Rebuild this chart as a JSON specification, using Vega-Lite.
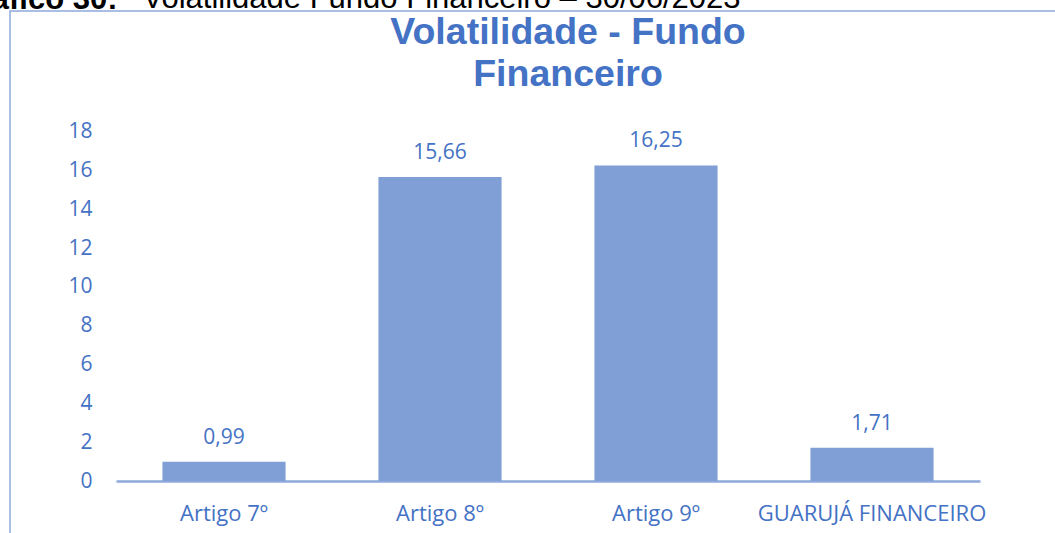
{
  "$schema": "https://vega.github.io/schema/vega-lite/v6.json",
  "autosize": {"type": "none"},
  "padding": {"left": 10, "top": 11, "right": 0, "bottom": 0},
  "width": 1116,
  "height": 540,
  "background": "white",
  "title": {
    "text": ["Volatilidade - Fundo", "Financeiro"],
    "anchor": "middle",
    "frame": "group",
    "font": "Liberation Sans",
    "fontSize": 37.5,
    "fontWeight": "bold",
    "color": "#4472C4",
    "lineHeight": 42,
    "baseline": "top",
    "offset": -111
  },
  "data": {
    "values": [
      {"categoria": "Artigo 7º", "volatilidade": 0.99},
      {"categoria": "Artigo 8º", "volatilidade": 15.66},
      {"categoria": "Artigo 9º", "volatilidade": 16.25},
      {"categoria": "GUARUJÁ FINANCEIRO", "volatilidade": 1.71}
    ]
  },
  "encoding": {
    "x": {
      "field": "categoria",
      "type": "nominal",
      "sort": null,
      "scale": {"range": [106, 970], "paddingInner": 0.43, "paddingOuter": 0.215},
      "axis": {
        "orient": "bottom",
        "offset": -70,
        "title": "Gráfico 30:",
        "titleFont": "Liberation Sans",
        "titleFontSize": 31,
        "titleFontWeight": "bold",
        "titleColor": "#000000",
        "titleAlign": "right",
        "titleBaseline": "alphabetic",
        "titleAngle": 0,
        "titleX": 107,
        "titleY": -473,
        "labelAngle": 0,
        "labelFont": "Open Sans",
        "labelFontSize": 22,
        "labelColor": "#4472C4",
        "labelBaseline": "alphabetic",
        "labelPadding": 39,
        "labelLimit": 400,
        "ticks": false,
        "tickSize": 0,
        "domainColor": "#8EA9DB",
        "domainWidth": 2.5,
        "grid": false
      }
    },
    "y": {
      "field": "volatilidade",
      "type": "quantitative",
      "scale": {"domain": [0, 18], "range": [470, 120.5], "nice": false, "zero": true},
      "axis": {
        "orient": "left",
        "offset": -90,
        "values": [0, 2, 4, 6, 8, 10, 12, 14, 16, 18],
        "format": "d",
        "title": "Volatilidade Fundo Financeiro – 30/06/2023",
        "titleFont": "Liberation Sans",
        "titleFontSize": 31,
        "titleFontWeight": "normal",
        "titleColor": "#000000",
        "titleAlign": "left",
        "titleBaseline": "alphabetic",
        "titleAngle": 0,
        "titleX": 42,
        "titleY": -4,
        "labelFont": "Open Sans",
        "labelFontSize": 21,
        "labelColor": "#4472C4",
        "labelPadding": 8,
        "ticks": false,
        "tickSize": 0,
        "domain": false,
        "grid": false
      }
    }
  },
  "layer": [
    {"mark": {"type": "bar", "color": "#7F9FD6"}},
    {
      "mark": {"type": "text", "dy": -18, "baseline": "alphabetic", "font": "Open Sans", "fontSize": 21, "color": "#4472C4"},
      "encoding": {"text": {"field": "volatilidade", "type": "quantitative", "format": ".2f"}}
    }
  ],
  "config": {
    "view": {"stroke": "#8EA9DB", "strokeWidth": 1.5},
    "locale": {
      "number": {"decimal": ",", "thousands": ".", "grouping": [3], "currency": ["R$", ""]}
    }
  }
}
